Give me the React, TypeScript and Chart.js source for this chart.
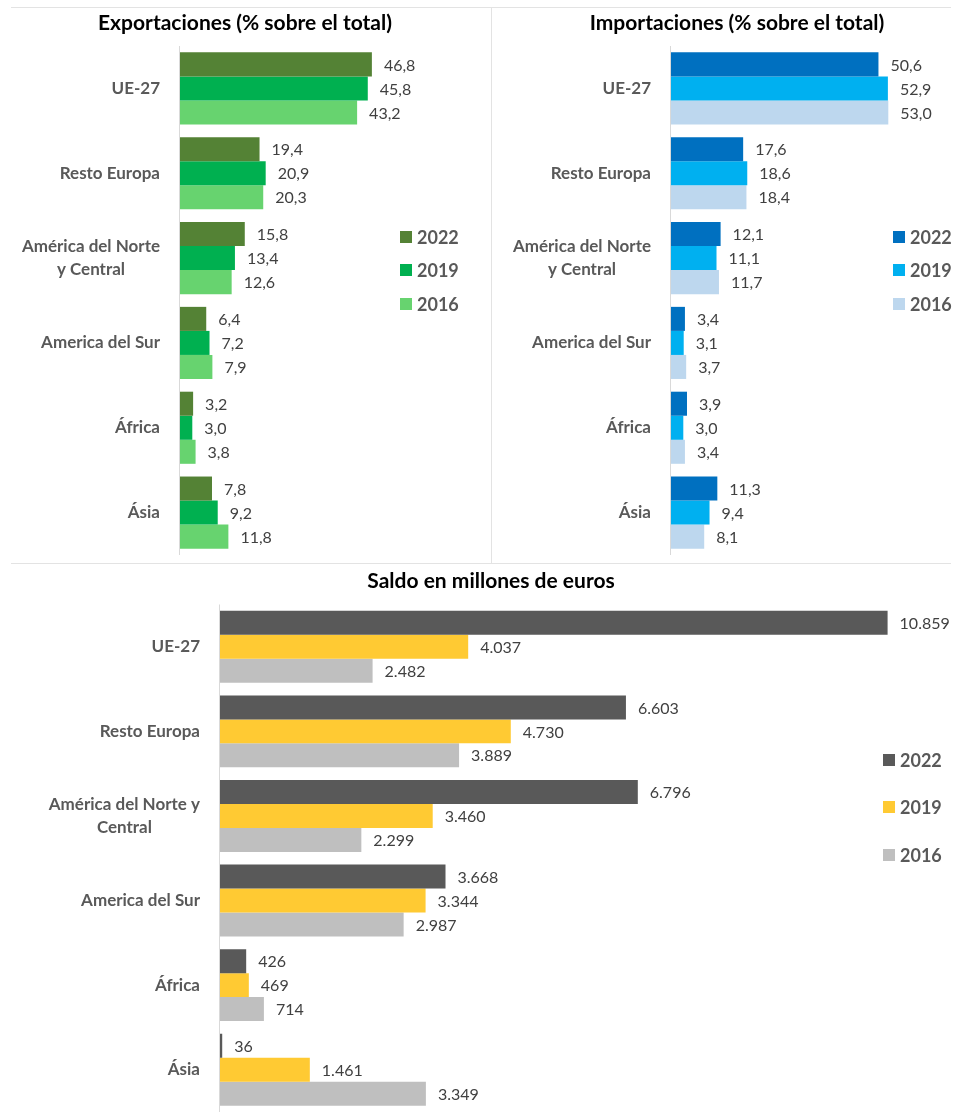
import React, { useEffect, useRef } from 'react';
import { Chart, registerables } from 'chart.js';

Chart.register(...registerables);

const FONT = 'Lato, "Open Sans", sans-serif';

// ---------- data ----------
const regions = ['UE-27', 'Resto Europa', ['América del Norte', 'y Central'], 'America del Sur', 'África', 'Ásia'];
const saldoRegions = ['UE-27', 'Resto Europa', ['América del Norte y', 'Central'], 'America del Sur', 'África', 'Ásia'];
const years = ['2022', '2019', '2016'];

const exp2022 = [46.8, 19.4, 15.8, 6.4, 3.2, 7.8];
const exp2019 = [45.8, 20.9, 13.4, 7.2, 3.0, 9.2];
const exp2016 = [43.2, 20.3, 12.6, 7.9, 3.8, 11.8];

const imp2022 = [50.6, 17.6, 12.1, 3.4, 3.9, 11.3];
const imp2019 = [52.9, 18.6, 11.1, 3.1, 3.0, 9.4];
const imp2016 = [53.0, 18.4, 11.7, 3.7, 3.4, 8.1];

const sal2022 = [10859, 6603, 6796, 3668, 426, 36];
const sal2019 = [4037, 4730, 3460, 3344, 469, 1461];
const sal2016 = [2482, 3889, 2299, 2987, 714, 3349];

const expColors = ['#548235', '#00B050', '#67D36F'];
const impColors = ['#0070C0', '#00B0F0', '#BDD7EE'];
const salColors = ['#595959', '#FFCA33', '#BFBFBF'];

const fmtPct = (v: number) => Number(v).toFixed(1).replace('.', ',');
const fmtThousands = (v: number) => Math.round(Number(v)).toString().replace(/\B(?=(\d{3})+(?!\d))/g, '.');

type PanelCfg = {
  x: number; y: number; w: number; h: number;
  labels: any[];
  series: number[][];
  colors: string[];
  max: number;
  padding: { left: number; right: number; top: number; bottom: number };
  title: string; titleX: number; titleY: number;
  legendX: number; legendY: number[];
  format: (v: number) => string;
};

const STYLE = {
  valueSize: 16,
  catSize: 17,
  catGap: 20,
  lineHeight: 23,
  legendSize: 18,
  titleSize: 21,
};

function makeDecor(cfg: PanelCfg) {
  return {
    id: 'decor',
    afterDatasetsDraw(chart: any) {
      const ctx = chart.ctx;
      const area = chart.chartArea;
      ctx.save();

      // axis line
      ctx.strokeStyle = '#D9D9D9';
      ctx.lineWidth = 1;
      ctx.beginPath();
      ctx.moveTo(area.left - 0.5, area.top);
      ctx.lineTo(area.left - 0.5, area.bottom);
      ctx.stroke();

      // data labels
      ctx.font = `${STYLE.valueSize}px ${FONT}`;
      ctx.fillStyle = '#404040';
      ctx.textAlign = 'left';
      ctx.textBaseline = 'middle';
      chart.data.datasets.forEach((ds: any, di: number) => {
        const meta = chart.getDatasetMeta(di);
        meta.data.forEach((el: any, i: number) => {
          ctx.fillText(cfg.format(ds.data[i]), el.x + 12, el.y + 1);
        });
      });

      // category labels
      const yScale = chart.scales.y;
      ctx.font = `bold ${STYLE.catSize}px ${FONT}`;
      ctx.fillStyle = '#595959';
      ctx.textAlign = 'center';
      cfg.labels.forEach((lab: any, i: number) => {
        const lines: string[] = Array.isArray(lab) ? lab : [lab];
        const w = Math.max(...lines.map((l) => ctx.measureText(l).width));
        const cx = area.left - STYLE.catGap - w / 2;
        const cy = yScale.getPixelForValue(i);
        lines.forEach((l, k) => {
          ctx.fillText(l, cx, cy + (k - (lines.length - 1) / 2) * STYLE.lineHeight);
        });
      });

      // legend
      ctx.font = `bold ${STYLE.legendSize}px ${FONT}`;
      ctx.textAlign = 'left';
      chart.data.datasets.forEach((ds: any, di: number) => {
        const y = cfg.legendY[di];
        ctx.fillStyle = ds.backgroundColor;
        ctx.fillRect(cfg.legendX, y - 6, 12, 12);
        ctx.fillStyle = '#595959';
        ctx.fillText(ds.label, cfg.legendX + 17, y + 1);
      });

      // title
      ctx.font = `bold ${STYLE.titleSize}px ${FONT}`;
      ctx.fillStyle = '#000000';
      ctx.textAlign = 'center';
      ctx.fillText(cfg.title, cfg.titleX, cfg.titleY);

      ctx.restore();
    },
  };
}

function Panel({ cfg }: { cfg: PanelCfg }) {
  const ref = useRef<HTMLCanvasElement | null>(null);
  useEffect(() => {
    const chart = new Chart(ref.current as HTMLCanvasElement, {
      type: 'bar',
      data: {
        labels: cfg.labels.map((l) => (Array.isArray(l) ? l.join(' ') : l)),
        datasets: cfg.series.map((s, i) => ({
          label: years[i],
          data: s,
          backgroundColor: cfg.colors[i],
          borderWidth: 0,
          categoryPercentage: 0.85,
          barPercentage: 1.0,
        })),
      },
      options: {
        indexAxis: 'y',
        responsive: false,
        animation: false,
        devicePixelRatio: 1,
        layout: { padding: cfg.padding },
        scales: {
          x: { display: false, min: 0, max: cfg.max },
          y: { display: false },
        },
        plugins: {
          legend: { display: false },
          title: { display: false },
          tooltip: { enabled: false },
        },
      },
      plugins: [makeDecor(cfg)],
    } as any);
    return () => chart.destroy();
  }, []);
  return (
    <canvas
      ref={ref}
      width={cfg.w}
      height={cfg.h}
      style={{ position: 'absolute', left: cfg.x, top: cfg.y, width: cfg.w, height: cfg.h }}
    />
  );
}

const panels: PanelCfg[] = [
  {
    x: 0, y: 0, w: 490, h: 562,
    labels: regions, series: [exp2022, exp2019, exp2016], colors: expColors,
    max: 60, padding: { left: 180, right: 64, top: 46, bottom: 7 },
    title: 'Exportaciones (% sobre el total)', titleX: 245, titleY: 23,
    legendX: 400, legendY: [237, 270, 304], format: fmtPct,
  },
  {
    x: 492, y: 0, w: 463, h: 562,
    labels: regions, series: [imp2022, imp2019, imp2016], colors: impColors,
    max: 60, padding: { left: 179, right: 38, top: 46, bottom: 7 },
    title: 'Importaciones (% sobre el total)', titleX: 245, titleY: 23,
    legendX: 401, legendY: [237, 270, 304], format: fmtPct,
  },
  {
    x: 0, y: 565, w: 955, h: 550,
    labels: saldoRegions, series: [sal2022, sal2019, sal2016], colors: salColors,
    max: 11500, padding: { left: 220, right: 28, top: 39.5, bottom: 3 },
    title: 'Saldo en millones de euros', titleX: 491, titleY: 16,
    legendX: 883, legendY: [195, 242, 290], format: fmtThousands,
  },
];

export default function App() {
  const line = (s: React.CSSProperties) => (
    <div style={{ position: 'absolute', background: '#E3E3E3', ...s }} />
  );
  return (
    <div style={{ position: 'absolute', left: 0, top: 0, width: 955, height: 1115, background: '#fff', overflow: 'hidden' }}>
      {line({ left: 11, top: 7, width: 940, height: 1 })}
      {line({ left: 491, top: 8, width: 1, height: 555 })}
      {line({ left: 11, top: 563, width: 940, height: 1 })}
      {panels.map((p, i) => (
        <Panel key={i} cfg={p} />
      ))}
    </div>
  );
}
